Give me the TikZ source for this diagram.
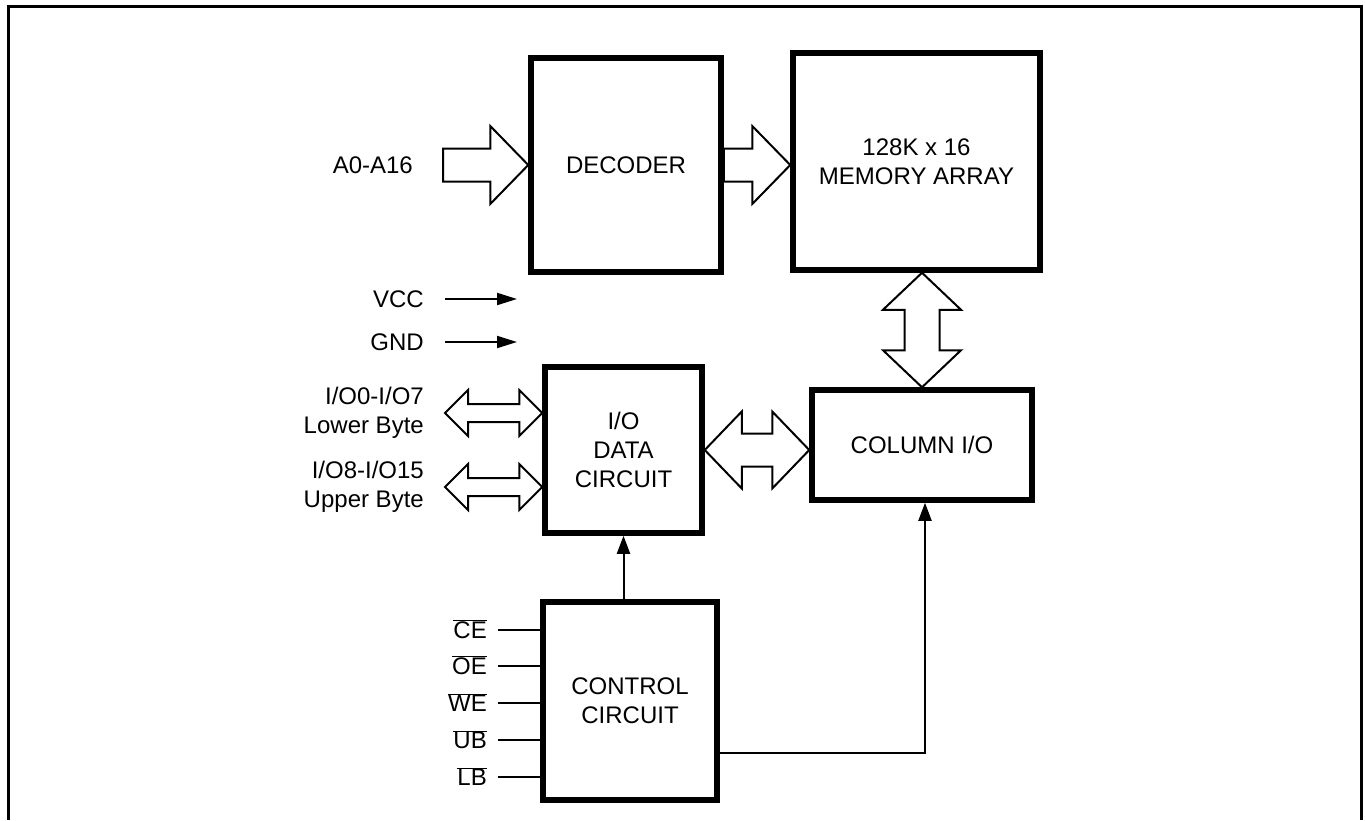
\documentclass[tikz,border=0pt]{standalone}
\usepackage{fontspec}
\setmainfont{Liberation Sans}
\usetikzlibrary{arrows.meta, positioning, calc}

% wide bus arrows, drawn as outlines
\newcommand{\busR}[2]{% one way, tail #1, tip #2
  \draw[bus] let \p1=(#1), \p2=(#2) in
    (\x1,\y1+16.5pt) -- (\x2-38pt,\y1+16.5pt) -- (\x2-38pt,\y1+39pt) -- (\x2,\y1)
    -- (\x2-38pt,\y1-39pt) -- (\x2-38pt,\y1-16.5pt) -- (\x1,\y1-16.5pt) -- cycle;}
\newcommand{\busLR}[5]{% two way, left #1, right #2, shaft #3, head #4, head length #5
  \draw[bus] let \p1=(#1), \p2=(#2) in
    (\x1,\y1) -- (\x1+#5,\y1+#4) -- (\x1+#5,\y1+#3) -- (\x2-#5,\y1+#3) -- (\x2-#5,\y1+#4)
    -- (\x2,\y1) -- (\x2-#5,\y1-#4) -- (\x2-#5,\y1-#3) -- (\x1+#5,\y1-#3) -- (\x1+#5,\y1-#4) -- cycle;}
\newcommand{\busUD}[2]{% two way, top #1, bottom #2
  \draw[bus] let \p1=(#1), \p2=(#2) in
    (\x1,\y1) -- (\x1+39pt,\y1-37pt) -- (\x1+17.5pt,\y1-37pt) -- (\x1+17.5pt,\y2+37pt) -- (\x1+39pt,\y2+37pt)
    -- (\x1,\y2) -- (\x1-39pt,\y2+37pt) -- (\x1-17.5pt,\y2+37pt) -- (\x1-17.5pt,\y1-37pt) -- (\x1-39pt,\y1-37pt) -- cycle;}

\begin{document}
\begin{tikzpicture}[x=1pt, y=-1pt,
    every node/.style={font=\fontsize{24}{29}\selectfont, inner sep=0pt},
    blk/.style={draw, line width=5.5pt, align=center},
    bus/.style={draw, line width=2pt, fill=white, line join=miter},
    sig/.style={line width=2pt, -{Triangle[length=18pt, width=13pt]}},
    lbl/.style={align=right, anchor=east}]
    \useasboundingbox (0,0) rectangle (1365,820);
    \draw[line width=3pt] (8,820) -- (8,6) -- (1361,6) -- (1361,820);

    \node[blk, minimum width=190, minimum height=214] (dec) at (626,165) {DECODER};
    \node[blk, minimum width=247, minimum height=217] (mem) at (916.5,161.5) {128K x 16\\MEMORY ARRAY};
    \node[blk, minimum width=220, minimum height=110] (col) at (922,445) {COLUMN I/O};
    \node[blk, minimum width=157, minimum height=166] (iod) at (623.5,450) {I/O\\DATA\\CIRCUIT};
    \node[blk, minimum width=174, minimum height=198] (ctl) at (630,701) {CONTROL\\CIRCUIT};

    % address bus
    \coordinate (addr) at (443,165);
    \node[lbl] [left=30pt of addr] {A0-A16};
    \busR{addr}{dec.west}
    \busR{dec.east}{dec.east -| mem.west}
    \busUD{col.north |- mem.south}{col.north}
    \busLR{iod.east}{iod.east -| col.west}{16.5pt}{38.5pt}{37pt}

    % supply pins
    \coordinate (vcc) at (445,299);
    \coordinate (gnd) at (445,342);
    \node[lbl] [left=21pt of vcc] {VCC};
    \node[lbl] [left=21pt of gnd] {GND};
    \draw[sig, -{Triangle[length=20pt, width=12pt]}] (vcc) -- ++(72,0);
    \draw[sig, -{Triangle[length=20pt, width=12pt]}] (gnd) -- ++(72,0);

    % data pins
    \coordinate (lo) at (445,413);
    \coordinate (up) at (445,487);
    \node[lbl] [left=21pt of lo] {I/O0-I/O7\\Lower Byte};
    \node[lbl] [left=21pt of up] {I/O8-I/O15\\Upper Byte};
    \busLR{lo}{lo -| iod.west}{9pt}{23pt}{23pt}
    \busLR{up}{up -| iod.west}{9pt}{23pt}{23pt}

    % control pins
    \foreach \pin/\yy in {CE/630, OE/666, WE/703, UB/740, LB/777} {
        \coordinate (\pin) at (498,\yy);
        \draw[line width=2pt] (\pin) -- (\pin -| ctl.west);
        \node[anchor=base east] at (487,\yy+8.6) {$\overline{\hbox{\pin}}$};
    }
    \draw[sig] (iod.south |- ctl.north) -- (iod.south);
    \draw[sig] ([yshift=-52pt]ctl.east) -| ([xshift=3pt]col.south);
\end{tikzpicture}
\end{document}
